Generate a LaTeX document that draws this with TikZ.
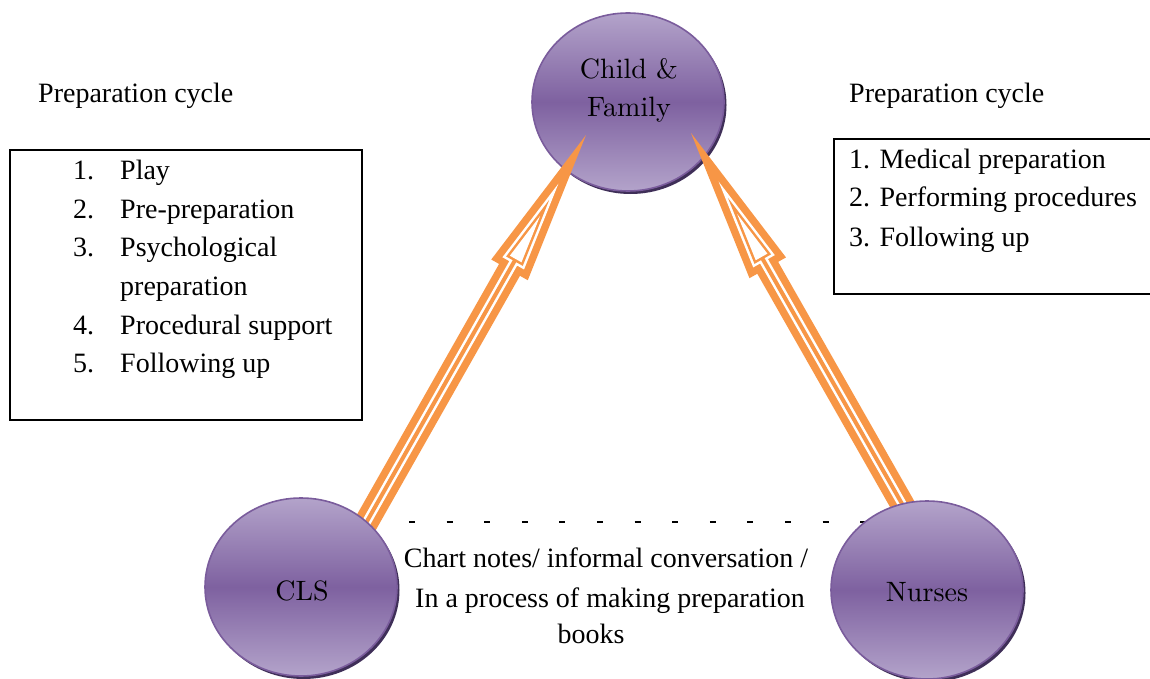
\documentclass[tikz,border=0pt]{standalone}
\usepackage{fontspec}
\newfontfamily\boxfont{Liberation Serif}
\newfontfamily\bubblefont{lmroman10-regular}[Extension=.otf]
\usetikzlibrary{calc,shapes.geometric}

\definecolor{arroworange}{HTML}{F79646}
\definecolor{bubblelight}{HTML}{B3A3CA}
\definecolor{bubbledark}{HTML}{7E61A0}
\definecolor{bubbleedge}{HTML}{7A5C9C}
\definecolor{bubbleshadow}{HTML}{3F2F58}

% geometry of the hollow block arrows (pt)
\def\sa{12}    % half width of the shaft
\def\sb{21}    % half width of the head
\def\sH{155}   % length of the head
\pgfmathsetmacro\tanal{\sb/\sH}
\pgfmathsetmacro\sinal{sin(atan(\tanal))}
\pgfmathsetmacro\cosal{cos(atan(\tanal))}

% outline of the arrow, moved inwards by #1
\newcommand\arrowoutline[1]{%
  (0,{-(\sa-#1)}) -- ({\arrowlen-\sH+#1},{-(\sa-#1)})
  -- ({\arrowlen-\sH+#1},{-((\sH-#1)*\tanal-(#1)/\cosal)})
  -- ({\arrowlen-(#1)/\sinal},0)
  -- ({\arrowlen-\sH+#1},{(\sH-#1)*\tanal-(#1)/\cosal})
  -- ({\arrowlen-\sH+#1},{\sa-#1}) -- (0,{\sa-#1}) -- cycle}
% head triangle only, moved inwards by #1
\newcommand\arrowheadonly[1]{%
  ({\arrowlen-\sH+#1},{-((\sH-#1)*\tanal-(#1)/\cosal)})
  -- ({\arrowlen-(#1)/\sinal},0)
  -- ({\arrowlen-\sH+#1},{(\sH-#1)*\tanal-(#1)/\cosal}) -- cycle}

% hollow orange arrow from coordinate #1 to coordinate #2
\newcommand\hollowarrow[2]{%
  \path let \p1=(#1), \p2=(#2) in
    \pgfextra{%
      \pgfmathsetmacro\arrowang{atan2(\y2-\y1,\x2-\x1)}%
      \pgfmathsetmacro\arrowlen{veclen(\x2-\x1,\y2-\y1)}%
      \global\let\arrowang\arrowang
      \global\let\arrowlen\arrowlen};
  \begin{scope}[shift={(#1)}, rotate=\arrowang, x=1pt, y=1pt]
    \fill[arroworange] \arrowoutline{0};
    \fill[white] \arrowoutline{7.5};
    \fill[arroworange] \arrowoutline{10};
    \fill[white] \arrowheadonly{12.5};
  \end{scope}}

\tikzset{
  bubble/.style={ellipse, minimum width=192pt, minimum height=178pt, inner sep=0pt,
    draw=bubbleedge, line width=1.6pt,
    top color=bubblelight, bottom color=bubblelight, middle color=bubbledark},
  bubbleshade/.style={ellipse, minimum width=192pt, minimum height=178pt,
    inner sep=0pt, fill=bubbleshadow},
  bubbletext/.style={font=\bubblefont\fontsize{28}{38}\selectfont, inner sep=0pt, anchor=base},
  plaintext/.style={font=\boxfont\fontsize{28}{38}\selectfont, inner sep=0pt},
  listbox/.style={draw=black, line width=2pt},
  linkdash/.style={draw=black, line width=1.6pt, dash pattern=on 6pt off 31.6pt},
}

\begin{document}
\begin{tikzpicture}[x=1pt, y=-1pt]
\useasboundingbox (0,0) rectangle (1150,679);
\fill[white] (0,0) rectangle (1150,679);

% centres of the three circles
\coordinate (childc) at (628,102);
\coordinate (clsc) at (301,587);
\coordinate (nursesc) at (927,590);

% ---- Child & Family
\node[bubbleshade] (childshadow) at ($(childc)+(2.5,3)$) {};
\node[bubble] (child) at (childc) {};
\node[bubbletext] (childtxt1) at (629,79) {Child \&};
\node[bubbletext] (childtxt2) at (629,117) {Family};

% ---- arrows towards the child and family
\coordinate (tipL) at ($(childc)+(-42,33)$);
\coordinate (tailL) at ($(clsc)+(44,-27)$);
\coordinate (tipR) at ($(childc)+(63,31)$);
\coordinate (tailR) at ($(nursesc)+(7,-30)$);
\hollowarrow{tailL}{tipL}
\hollowarrow{tailR}{tipR}

% ---- dashed link between CLS and nurses
\coordinate (dashA) at (409,522);
\coordinate (dashB) at (872,522);
\draw[linkdash] (dashA) -- (dashB);

% ---- CLS
\node[bubbleshade] (clsshadow) at ($(clsc)+(2.5,3)$) {};
\node[bubble] (cls) at (clsc) {};
\node[bubbletext] (clstxt) at (302,600) {CLS};

% ---- Nurses
\node[bubbleshade] (nursesshadow) at ($(nursesc)+(2.5,3)$) {};
\node[bubble] (nurses) at (nursesc) {};
\node[bubbletext] (nursestxt) at (927,601) {Nurses};

% ---- left preparation cycle
\node[plaintext, anchor=base west] (cycleL) at (38,103) {Preparation cycle};
\draw[listbox] (10,150) rectangle (362,420);
\node[plaintext, anchor=base west] (nL1) at (73,179) {1.};
\node[plaintext, anchor=base west] (iL1) at (120,179) {Play};
\node[plaintext, anchor=base west] (nL2) at (73,218) {2.};
\node[plaintext, anchor=base west] (iL2) at (120,218) {Pre-preparation};
\node[plaintext, anchor=base west] (nL3) at (73,256) {3.};
\node[plaintext, anchor=base west] (iL3) at (120,256) {Psychological};
\node[plaintext, anchor=base west] (iL3b) at (120,295) {preparation};
\node[plaintext, anchor=base west] (nL4) at (73,334) {4.};
\node[plaintext, anchor=base west] (iL4) at (120,334) {Procedural support};
\node[plaintext, anchor=base west] (nL5) at (73,372) {5.};
\node[plaintext, anchor=base west] (iL5) at (120,372) {Following up};

% ---- right preparation cycle
\node[plaintext, anchor=base west] (cycleR) at (849,103) {Preparation cycle};
\draw[listbox] (834,139) rectangle (1160,294);
\node[plaintext, anchor=base west] (iR1) at (849,168) {1. Medical preparation};
\node[plaintext, anchor=base west] (iR2) at (849,207) {2. Performing procedures};
\node[plaintext, anchor=base west] (iR3) at (849,246) {3. Following up};

% ---- note under the dashed link
\node[plaintext, anchor=base] (note1) at (606,567) {Chart notes/ informal conversation /};
\node[plaintext, anchor=base] (note2) at (610,607) {In a process of making preparation};
\node[plaintext, anchor=base] (note3) at (591,643) {books};
\end{tikzpicture}
\end{document}
